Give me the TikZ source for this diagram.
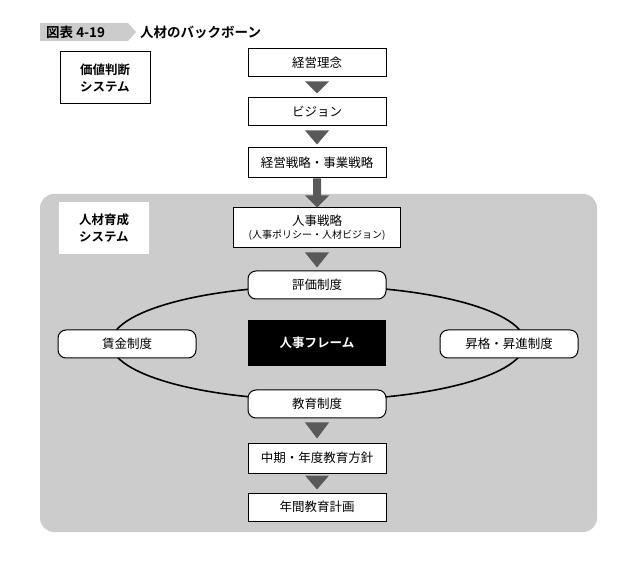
\documentclass[tikz,border=0pt]{standalone}
\usepackage{fontspec}
\setmainfont{Noto Sans CJK JP}
\newfontfamily\jpb{Noto Sans CJK JP Bold}
\begin{document}
\begin{tikzpicture}[x=1pt,y=-1pt,
  sq/.style={draw,line width=1pt,fill=white,minimum width=138pt,minimum height=28pt,inner sep=0pt,font=\fontsize{12.5}{14}\selectfont},
  rd/.style={sq,rounded corners=8pt,minimum height=28pt},
  lbl/.style={draw,line width=1pt,fill=white,minimum width=90pt,minimum height=52pt,align=left,font=\jpb\fontsize{12.5}{17}\selectfont},
  tri/.style={fill=black!65}]
\useasboundingbox (0,0) rectangle (643,561);
% title
\fill[black!20] (40,23) -- (128,23) -- (136,32) -- (128,41) -- (40,41) -- cycle;
\node[anchor=west,font=\jpb\fontsize{13.5}{15}\selectfont,inner sep=0pt] (t1) at (46,32) {図表 4-19};
\node[anchor=west,font=\jpb\fontsize{13.5}{15}\selectfont,inner sep=0pt] (t2) at (140,32) {人材のバックボーン};
% grey region
\fill[black!20,rounded corners=14pt] (40,194) rectangle (597,532);
\node[lbl] (v) at (105,78) {価値判断\\システム};
\node[lbl,draw=none] (h) at (104,228) {人材育成\\システム};
% top chain
\node[sq] (a) at (317,63) {経営理念};
\node[sq] (b) at (317,112) {ビジョン};
\node[sq,minimum height=30pt] (c) at (317,163) {経営戦略・事業戦略};
\node[sq,minimum width=167pt,minimum height=40pt,align=center,font=\fontsize{12.5}{13}\selectfont] (d) at (317,228) {人事戦略\\{\fontsize{10}{11}\selectfont (人事ポリシー・人材ビジョン)}};
% ellipse
\draw[line width=1.6pt] (318,343) ellipse [x radius=207, y radius=57];
\node[rd] (e) at (317,285) {評価制度};
\node[rd] (w) at (127,344) {賃金制度};
\node[rd] (p) at (509,344) {昇格・昇進制度};
\node[rd] (f) at (317,404) {教育制度};
\node[fill=black,text=white,minimum width=138pt,minimum height=46pt,font=\jpb\fontsize{12.5}{14}\selectfont] (k) at (317,343) {人事フレーム};
\node[sq,minimum height=30pt] (g) at (317,458) {中期・年度教育方針};
\node[sq] (i) at (317,507) {年間教育計画};
% triangles
\fill[tri] ([xshift=-12pt,yshift=-4pt]a.south) -- ([xshift=12pt,yshift=-4pt]a.south) -- ([yshift=4pt]b.north) -- cycle;
\fill[tri] ([xshift=-12pt,yshift=-4pt]b.south) -- ([xshift=12pt,yshift=-4pt]b.south) -- ([yshift=3pt]c.north) -- cycle;
\fill[tri] ([xshift=-4pt]c.south) -- ([xshift=4pt]c.south) -- ([xshift=4pt,yshift=-17pt]c.south) -- ([xshift=12pt,yshift=-17pt]c.south) -- (d.north) -- ([xshift=-12pt,yshift=-17pt]c.south) -- ([xshift=-4pt,yshift=-17pt]c.south) -- cycle;
\fill[tri] ([xshift=-12pt,yshift=-4pt]d.south) -- ([xshift=12pt,yshift=-4pt]d.south) -- ([yshift=3pt]e.north) -- cycle;
\fill[tri] ([xshift=-12pt,yshift=-4pt]f.south) -- ([xshift=12pt,yshift=-4pt]f.south) -- ([yshift=4pt]g.north) -- cycle;
\fill[tri] ([xshift=-12pt,yshift=-2pt]g.south) -- ([xshift=12pt,yshift=-2pt]g.south) -- ([yshift=3pt]i.north) -- cycle;
\end{tikzpicture}
\end{document}
